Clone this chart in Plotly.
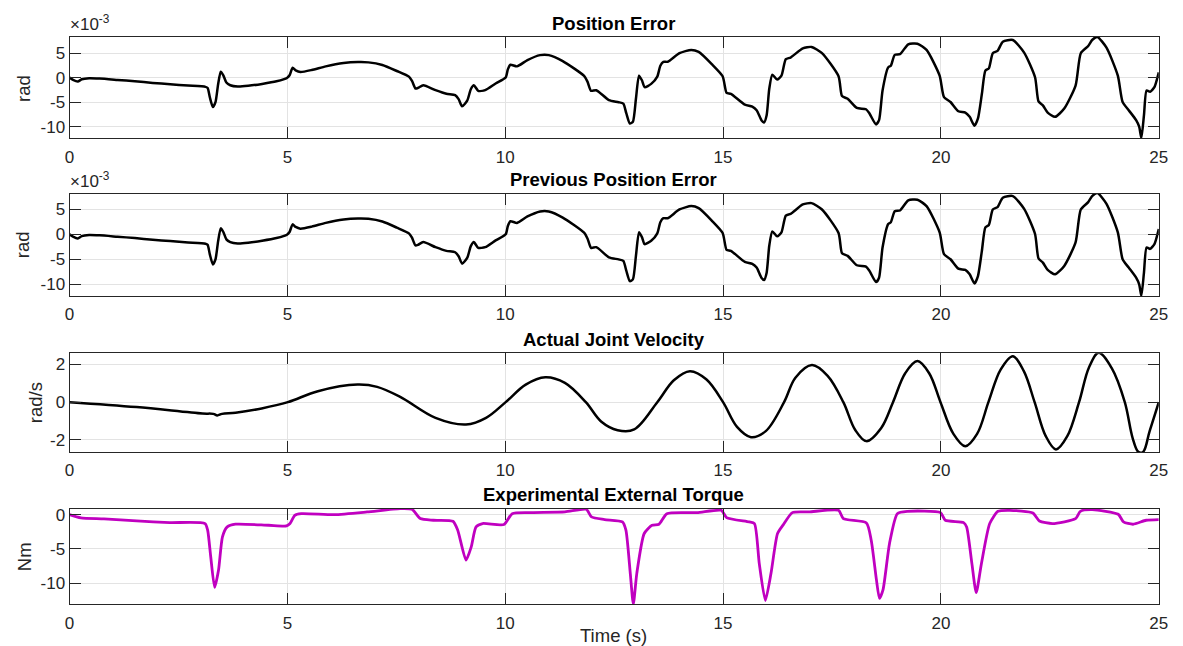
import plotly.graph_objects as go

# ---------------- data ----------------
err_t = [0, 0.08, 0.19, 0.28, 0.45, 0.69, 1.10, 1.50, 1.91, 2.31, 2.72, 3.12, 3.17, 3.22, 3.29, 3.35, 3.41, 3.47, 3.53, 3.60,
         3.69, 3.86, 4.10, 4.42, 4.75, 4.99, 5.05, 5.12, 5.19, 5.30, 5.56, 5.88, 6.29, 6.62, 6.86, 7.18, 7.51, 7.79, 7.86, 7.94,
         8.00, 8.12, 8.40, 8.65, 8.85, 8.93, 9.01, 9.13, 9.21, 9.28, 9.38, 9.54, 9.78, 10.01, 10.06, 10.12, 10.27, 10.51, 10.80, 11.00,
         11.32, 11.81, 11.89, 11.97, 12.09, 12.38, 12.60, 12.71, 12.78, 12.86, 12.93, 13.00, 13.07, 13.14, 13.20, 13.35, 13.49, 13.56, 13.63, 13.73,
         14.00, 14.27, 14.44, 14.74, 14.99, 15.08, 15.18, 15.50, 15.67, 15.77, 15.88, 15.94, 16.00, 16.06, 16.13, 16.24, 16.34, 16.44, 16.55, 16.83,
         17.03, 17.27, 17.65, 17.73, 17.86, 18.07, 18.28, 18.36, 18.51, 18.58, 18.66, 18.79, 18.85, 18.94, 19.06, 19.25, 19.46, 19.67, 19.97, 20.07,
         20.22, 20.40, 20.56, 20.66, 20.77, 20.85, 20.94, 21.02, 21.10, 21.19, 21.30, 21.42, 21.65, 21.91, 22.16, 22.24, 22.34, 22.45, 22.62, 22.83,
         23.09, 23.21, 23.38, 23.47, 23.59, 23.80, 24.06, 24.17, 24.31, 24.48, 24.55, 24.60, 24.66, 24.72, 24.80, 24.90, 25.0]
# position error in units of 1e-3 rad
pos_err = [0, -0.47, -0.81, -0.34, -0.13, -0.2, -0.47, -0.74, -1.08, -1.35, -1.62, -1.88, -2.1, -4.0, -6.0, -5.0, -1.4, 1.2, 0.47, -1.0,
           -1.55, -1.82, -1.68, -1.28, -0.74, -0.07, 0.47, 2.0, 1.48, 1.14, 1.55, 2.29, 2.96, 3.16, 3.1, 2.56, 1.35, 0.2, -0.67, -2.22,
           -2.09, -1.55, -2.56, -3.3, -3.57, -4.37, -5.85, -4.64, -2.36, -1.55, -2.69, -2.56, -1.21, 0, 1.68, 2.62, 2.29, 3.57, 4.58, 4.58,
           3.36, 0.34, -0.87, -2.69, -2.56, -4.58, -5.0, -5.3, -7.3, -9.35, -9.0, -4.3, 0.4, -0.6, -1.95, -1.28, 0.2, 2.42, 3.22, 3.22,
           4.97, 5.64, 5.23, 2.75, 0.27, -3.09, -3.29, -5.5, -5.9, -6.64, -8.66, -9.13, -7.65, -2.28, 0.6, -0.4, 0.4, 3.76, 4.09, 5.97,
           6.24, 4.97, 0.27, -3.76, -4.3, -6.17, -6.44, -7.3, -9.53, -8.66, -2.62, 2.08, 2.42, 4.63, 4.77, 6.78, 6.91, 5.64, 0.4, -3.96,
           -4.97, -6.85, -7.11, -7.99, -9.8, -8.32, -3.29, 1.41, 1.88, 4.97, 5.44, 7.32, 7.65, 5.1, 0.07, -4.83, -5.64, -7.11, -7.99, -6.3,
           -1.61, 4.97, 6.44, 7.65, 8.26, 6.1, 0.4, -4.97, -6.64, -8.66, -10.0, -12.3, -7.65, -2.63, -2.9, -1.95, 1.07]
prev_pos_err = [-0.0, -0.47, -0.81, -0.34, -0.13, -0.2, -0.47, -0.74, -1.08, -1.35, -1.62, -1.88, -2.1, -4.0, -6.0, -5.0, -1.4, 1.2, 0.47, -1.0,
                -1.55, -1.82, -1.68, -1.28, -0.74, -0.07, 0.47, 2.0, 1.48, 1.14, 1.55, 2.29, 2.96, 3.16, 3.1, 2.56, 1.35, 0.2, -0.67, -2.22,
                -2.09, -1.55, -2.56, -3.3, -3.57, -4.37, -5.85, -4.64, -2.36, -1.55, -2.69, -2.56, -1.21, 0, 1.68, 2.62, 2.29, 3.57, 4.58, 4.58,
                3.36, 0.34, -0.87, -2.69, -2.56, -4.58, -5.0, -5.3, -7.3, -9.35, -9.0, -4.3, 0.4, -0.6, -1.95, -1.28, 0.2, 2.42, 3.22, 3.22,
                4.97, 5.64, 5.23, 2.75, 0.27, -3.09, -3.29, -5.5, -5.9, -6.64, -8.66, -9.13, -7.65, -2.28, 0.6, -0.4, 0.4, 3.76, 4.09, 5.97,
                6.24, 4.97, 0.27, -3.76, -4.3, -6.17, -6.44, -7.3, -9.53, -8.66, -2.62, 2.08, 2.42, 4.63, 4.77, 6.78, 6.91, 5.64, 0.4, -3.96,
                -4.97, -6.85, -7.11, -7.99, -9.8, -8.32, -3.29, 1.41, 1.88, 4.97, 5.44, 7.32, 7.65, 5.1, 0.07, -4.83, -5.64, -7.11, -7.99, -6.3,
                -1.61, 4.97, 6.44, 7.65, 8.26, 6.1, 0.4, -4.97, -6.64, -8.66, -10.0, -12.3, -7.65, -2.63, -2.9, -1.95, 1.07]

vel_t = [0, 1.54, 3.05, 3.30, 3.39, 3.50, 3.81, 4.41, 5.01, 5.70, 6.61, 7.06, 7.59, 8.40, 9.10, 9.56, 10.01, 10.47, 10.92, 11.37,
         11.85, 12.20, 12.58, 12.96, 13.49, 13.87, 14.24, 14.62, 15.00, 15.32, 15.64, 15.98, 16.40, 16.66, 17.04, 17.40, 17.76, 18.03, 18.29, 18.63,
         18.90, 19.18, 19.46, 19.73, 19.99, 20.28, 20.56, 20.83, 21.09, 21.37, 21.65, 21.90, 22.15, 22.40, 22.64, 22.90, 23.17, 23.40, 23.62, 23.92,
         24.22, 24.40, 24.53, 24.64, 24.79, 25.0]
velocity = [0, -0.26, -0.6, -0.62, -0.7, -0.62, -0.56, -0.33, 0, 0.58, 0.93, 0.81, 0.28, -0.83, -1.18, -0.83, 0, 0.93, 1.32, 1.02,
            0, -1.02, -1.48, -1.44, 0, 1.16, 1.64, 1.2, 0, -1.31, -1.85, -1.53, 0, 1.29, 1.96, 1.39, 0, -1.46, -2.06, -1.36,
            0, 1.53, 2.17, 1.53, 0, -1.65, -2.33, -1.68, 0, 1.72, 2.43, 1.65, 0, -1.77, -2.5, -1.8, 0, 1.85, 2.61, 1.8,
            0, -1.9, -2.63, -2.63, -1.53, 0]

trq_t = [0, 0.26, 0.79, 1.54, 2.30, 3.11, 3.17, 3.24, 3.33, 3.42, 3.51, 3.62, 3.81, 4.57, 4.98, 5.06, 5.17, 5.32, 6.08, 6.83,
         7.59, 7.86, 8.05, 8.35, 8.80, 8.91, 9.10, 9.22, 9.33, 9.48, 9.97, 10.16, 10.61, 11.37, 11.86, 11.98, 12.28, 12.69, 12.77, 12.87,
         12.94, 13.02, 13.19, 13.37, 13.53, 13.71, 14.40, 14.96, 15.08, 15.60, 15.72, 15.83, 15.97, 16.10, 16.25, 16.38, 16.59, 16.97, 17.65, 17.76,
         18.29, 18.40, 18.52, 18.59, 18.67, 18.82, 19.00, 19.23, 19.99, 20.10, 20.52, 20.59, 20.71, 20.81, 20.93, 21.12, 21.31, 21.58, 22.11, 22.26,
         22.56, 23.09, 23.20, 23.47, 24.07, 24.19, 24.41, 24.71, 25.0]
torque = [0, -0.48, -0.63, -0.92, -1.16, -1.3, -2.27, -6.1, -10.6, -8.07, -3.24, -1.79, -1.4, -1.55, -1.64, -1.3, -0.1, 0.14, 0, 0.39,
          0.87, 0.77, -0.58, -0.82, -0.97, -2.27, -6.62, -4.69, -1.79, -1.3, -1.45, 0.14, 0.29, 0.39, 0.77, -0.34, -0.72, -1.06, -2.27, -8.55,
          -13.0, -8.55, -2.75, -1.55, -1.4, 0.14, 0.29, 0.63, -0.43, -1.06, -1.3, -7.1, -12.5, -8.55, -2.75, -1.5, 0.29, 0.39, 0.63, -0.58,
          -1.21, -3.72, -9.5, -12.2, -10.97, -4.2, 0.14, 0.48, 0.29, -0.82, -1.16, -1.79, -7.1, -11.35, -7.1, -1.3, 0.48, 0.63, 0.24, -0.92,
          -1.3, -0.58, 0.48, 0.72, 0.05, -1.06, -1.4, -0.82, -0.72]

titles = ["Position Error", "Previous Position Error", "Actual Joint Velocity", "Experimental External Torque"]
ylabels = ["rad", "rad", "rad/s", "Nm"]
x_ticks = [0, 5, 10, 15, 20, 25]
err_ticks = [-10, -5, 0, 5]
vel_ticks = [-2, 0, 2]
trq_ticks = [-10, -5, 0]

# ---------------- layout helpers ----------------
W, H = 1183, 646
def fx(px):
    return px / W
def fy(py):
    return 1 - py / H

plot_left, plot_right = 65.3, 1167.6
boxes = [(34, 136), (191.7, 294.3), (352, 451), (508, 604)]
yranges = [[-12.37, 8.3], [-12.3, 8.1], [-2.63, 2.58], [-13.04, 0.87]]
yticks = [err_ticks, err_ticks, vel_ticks, trq_ticks]
smooth = [0.6, 0.6, 1.0, 0.6]

FONT = "Liberation Sans, Arial, sans-serif"
AXC = "#262626"

def lab(v):
    return str(v)  # plain hyphen-minus, as in the reference

fig = go.Figure()
series = [(err_t, pos_err, "black", 2.5), (err_t, prev_pos_err, "black", 2.5),
          (vel_t, velocity, "black", 2.5), (trq_t, torque, "#C000C0", 2.8)]
for i, (xs, ys, col, w) in enumerate(series):
    sfx = "" if i == 0 else str(i + 1)
    fig.add_trace(go.Scatter(x=xs, y=ys, mode="lines",
                             line=dict(color=col, width=w, shape="spline", smoothing=smooth[i]),
                             xaxis="x" + sfx, yaxis="y" + sfx, showlegend=False, hoverinfo="skip"))

layout = dict(width=W, height=H, autosize=False, paper_bgcolor="white", plot_bgcolor="white",
              margin=dict(l=0, r=0, t=0, b=0, pad=0), showlegend=False,
              font=dict(family=FONT, color=AXC))
for i in range(4):
    sfx = "" if i == 0 else str(i + 1)
    top, bot = boxes[i]
    layout["xaxis" + sfx] = dict(domain=[fx(plot_left), fx(plot_right)], anchor="y" + sfx,
                                 range=[0, 25], tickvals=x_ticks, ticktext=[lab(v) for v in x_ticks],
                                 ticks="inside", ticklen=11,
                                 tickcolor=AXC, showline=True, linecolor=AXC, linewidth=1, mirror="ticks",
                                 showgrid=True, gridcolor="#e3e3e3", gridwidth=1, zeroline=False,
                                 tickfont=dict(size=17, color=AXC, family=FONT), ticklabelstandoff=3)
    layout["yaxis" + sfx] = dict(domain=[fy(bot), fy(top)], anchor="x" + sfx,
                                 range=yranges[i], tickvals=yticks[i], ticktext=[lab(v) for v in yticks[i]],
                                 ticks="inside", ticklen=11,
                                 tickcolor=AXC, showline=True, linecolor=AXC, linewidth=1, mirror="ticks",
                                 showgrid=True, gridcolor="#e3e3e3", gridwidth=1, zeroline=False,
                                 tickfont=dict(size=17, color=AXC, family=FONT))

ann = []
title_y = [20.7, 177, 338.3, 494]
for i in range(4):
    ann.append(dict(text="<b>" + titles[i] + "</b>", x=fx(616), y=fy(title_y[i]), xref="paper", yref="paper",
                    xanchor="center", yanchor="middle", showarrow=False,
                    font=dict(size=18.5, color="black", family=FONT)))
ylab_pos = [(18.5, 86), (18.5, 243), (31.7, 401.7), (19.3, 556.7)]
for i in range(4):
    ann.append(dict(text=ylabels[i], x=fx(ylab_pos[i][0]), y=fy(ylab_pos[i][1]), xref="paper", yref="paper",
                    xanchor="center", yanchor="middle", textangle=-90, showarrow=False,
                    font=dict(size=18.5, color=AXC, family=FONT)))
for top in (boxes[0][0], boxes[1][0]):
    ann.append(dict(text="×10<sup>-3</sup>", x=fx(64), y=fy(top - 1), xref="paper", yref="paper",
                    xanchor="left", yanchor="bottom", showarrow=False,
                    font=dict(size=17, color=AXC, family=FONT)))
ann.append(dict(text="Time (s)", x=fx(616), y=fy(635), xref="paper", yref="paper",
                xanchor="center", yanchor="middle", showarrow=False,
                font=dict(size=18.5, color=AXC, family=FONT)))
layout["annotations"] = ann

fig.update_layout(**layout)
fig.write_html("out.html", config={"responsive": False, "displayModeBar": False},
               post_script="document.body.style.margin='0';document.body.style.padding='0';"
                           "document.documentElement.style.overflow='hidden';document.body.style.overflow='hidden';")
